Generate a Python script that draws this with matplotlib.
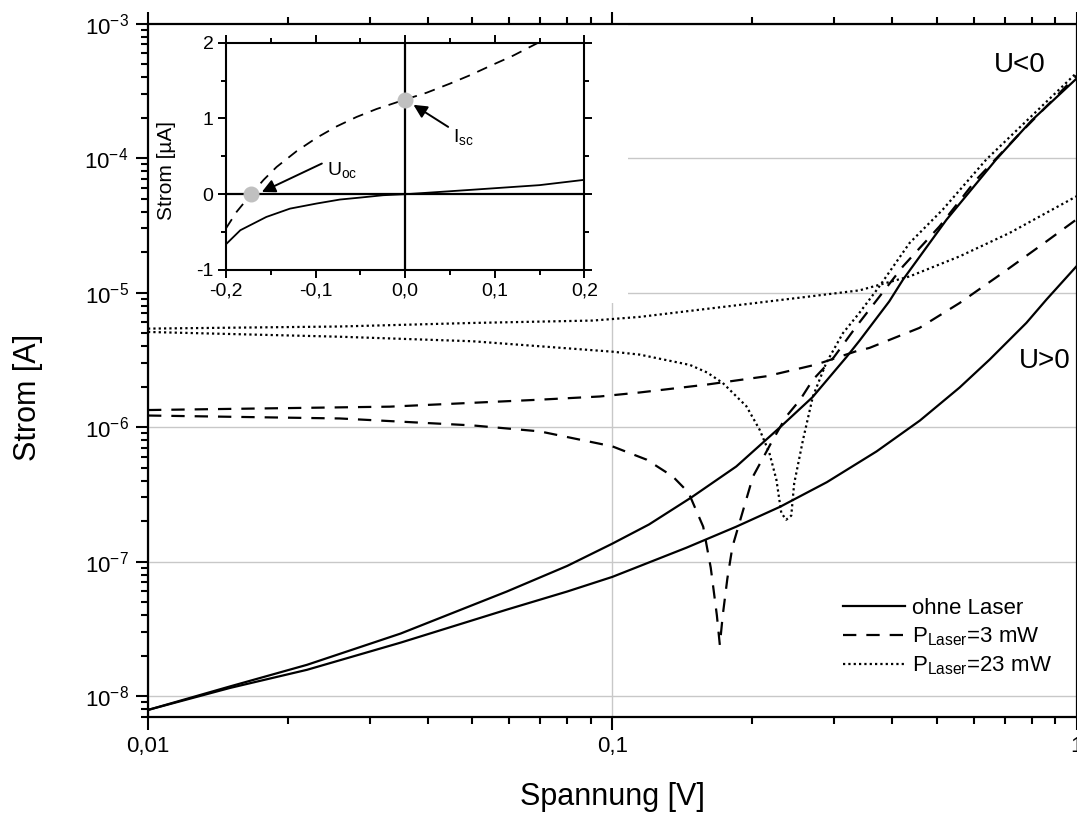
import matplotlib
matplotlib.use("Agg")
import matplotlib.pyplot as plt
from matplotlib.patches import Rectangle
from matplotlib.ticker import FixedLocator, LogLocator, NullFormatter, MultipleLocator

plt.rcParams["font.family"] = ["Liberation Sans", "DejaVu Sans"]
plt.rcParams["mathtext.fontset"] = "custom"
plt.rcParams["mathtext.rm"] = "Liberation Sans"
plt.rcParams["mathtext.it"] = "Liberation Sans:italic"
plt.rcParams["mathtext.bf"] = "Liberation Sans:bold"

# Hauptdiagramm: |I| ueber |U|, je Messung ein Ast fuer U<0 und U>0
u_dark_neg = [0.01, 0.015, 0.022, 0.035, 0.0593, 0.08, 0.1, 0.12, 0.148, 0.185,
              0.23, 0.27, 0.32, 0.341, 0.395, 0.423, 0.525, 0.671, 0.8, 1.0]
i_dark_neg = [7.9e-9, 1.18e-8, 1.71e-8, 2.92e-8, 6.0e-8, 9.3e-8, 1.36e-7, 1.89e-7, 3.0e-7, 5.1e-7,
              1.0e-6, 1.67e-6, 3.34e-6, 4.4e-6, 8.6e-6, 1.25e-5, 3.49e-5, 9.75e-5, 1.9e-4, 3.9e-4]

u_dark_pos = [0.01, 0.015, 0.022, 0.035, 0.0593, 0.08, 0.1, 0.1445, 0.185, 0.23,
              0.29, 0.371, 0.46, 0.56, 0.65, 0.78, 0.862, 1.0]
i_dark_pos = [7.9e-9, 1.15e-8, 1.57e-8, 2.5e-8, 4.4e-8, 6.0e-8, 7.7e-8, 1.27e-7, 1.82e-7, 2.56e-7,
              3.9e-7, 6.6e-7, 1.12e-6, 1.97e-6, 3.18e-6, 5.96e-6, 8.9e-6, 1.57e-5]

u_3mw_pos = [0.01, 0.0332, 0.0698, 0.094, 0.1146, 0.1595, 0.215, 0.275, 0.3355, 0.358,
             0.459, 0.56, 0.693, 0.861, 1.0]
i_3mw_pos = [1.34e-6, 1.42e-6, 1.6e-6, 1.69e-6, 1.81e-6, 2.07e-6, 2.39e-6, 2.92e-6, 3.67e-6, 3.88e-6,
             5.47e-6, 8.37e-6, 1.40e-5, 2.40e-5, 3.5e-5]

u_3mw_neg = [0.01, 0.0259, 0.05, 0.0698, 0.1, 0.1186, 0.135, 0.146, 0.157, 0.163,
             0.168, 0.1705, 0.173, 0.177, 0.1815, 0.201, 0.222, 0.237, 0.254, 0.2705,
             0.30, 0.3355, 0.358, 0.423, 0.507, 0.608, 0.743, 1.0]
i_3mw_neg = [1.22e-6, 1.16e-6, 1.03e-6, 9.3e-7, 7.2e-7, 5.73e-7, 4.3e-7, 3.26e-7, 1.82e-7, 9.0e-8,
             4.0e-8, 2.4e-8, 4.0e-8, 7.5e-8, 1.29e-7, 4.3e-7, 8.1e-7, 1.2e-6, 1.6e-6, 2.25e-6,
             3.3e-6, 5.6e-6, 7.48e-6, 1.57e-5, 3.11e-5, 6.9e-5, 1.44e-4, 4.1e-4]

u_23mw_pos = [0.01, 0.0259, 0.05, 0.0908, 0.1146, 0.188, 0.262, 0.341, 0.437, 0.56, 0.718, 1.0]
i_23mw_pos = [5.4e-6, 5.6e-6, 5.95e-6, 6.2e-6, 6.6e-6, 8.1e-6, 9.3e-6, 1.04e-5, 1.32e-5, 1.86e-5,
              2.78e-5, 5.2e-5]

u_23mw_neg = [0.01, 0.0259, 0.05, 0.1, 0.1146, 0.147, 0.16, 0.173, 0.1945, 0.2077, 0.218,
              0.2257, 0.2313, 0.237, 0.243, 0.2465, 0.2576, 0.2705, 0.289, 0.314, 0.341,
              0.376, 0.437, 0.515, 0.639, 1.0]
i_23mw_neg = [5.1e-6, 4.7e-6, 4.35e-6, 3.64e-6, 3.46e-6, 2.9e-6, 2.55e-6, 2.13e-6, 1.43e-6, 9.57e-7, 6.43e-7,
              4.07e-7, 2.3e-7, 2.05e-7, 2.2e-7, 3.8e-7, 8.07e-7, 1.69e-6, 3.0e-6, 5.0e-6, 7.1e-6,
              1.11e-5, 2.34e-5, 4.14e-5, 9.75e-5, 4.3e-4]

x_ticks = [0.01, 0.1, 1.0]
x_ticklabels = ["0,01", "0,1", "1"]
y_ticks = [1e-8, 1e-7, 1e-6, 1e-5, 1e-4, 1e-3]
y_ticklabels = [r"$\mathregular{10^{-%d}}$" % n for n in (8, 7, 6, 5, 4, 3)]

legend_labels = ["ohne Laser", r"P$_\mathregular{Laser}$=3 mW", r"P$_\mathregular{Laser}$=23 mW"]

# Einsatz: lineare Kennlinie um U=0, Strom in uA
inset_u_dark = [-0.2, -0.184, -0.155, -0.1286, -0.099, -0.0728, -0.05, -0.0244, 0.0, 0.076, 0.15, 0.2]
inset_i_dark = [-0.66, -0.475, -0.30, -0.19, -0.123, -0.07, -0.044, -0.013, 0.0, 0.06, 0.12, 0.19]
inset_u_3mw = [-0.2, -0.188, -0.172, -0.158, -0.1435, -0.121, -0.0988, -0.0765, -0.0542, -0.0319, 0.0,
               0.024, 0.05, 0.0723, 0.098, 0.1207, 0.1486]
inset_i_3mw = [-0.45, -0.23, 0.0, 0.19, 0.36, 0.57, 0.745, 0.895, 1.02, 1.125, 1.25,
               1.34, 1.46, 1.57, 1.71, 1.83, 2.0]
inset_mark_u = [-0.172, 0.0]
inset_mark_i = [0.0, 1.25]
inset_xticks = [-0.2, -0.1, 0.0, 0.1, 0.2]
inset_xticklabels = ["-0,2", "-0,1", "0,0", "0,1", "0,2"]
inset_yticks = [-1, 0, 1, 2]
inset_yticklabels = ["-1", "0", "1", "2"]

DASH = (6, 4.5)
DOT = (1, 1.4)

fig = plt.figure(figsize=(10.77, 8.13), dpi=100)
ax = fig.add_axes([148 / 1077, 96 / 813, 928.5 / 1077, 693.4 / 813])

lw = 1.6
ax.plot(u_dark_neg, i_dark_neg, color="k", lw=lw, label=legend_labels[0])
ax.plot(u_dark_pos, i_dark_pos, color="k", lw=lw)
ax.plot(u_3mw_neg, i_3mw_neg, color="k", lw=lw, dashes=DASH, label=legend_labels[1])
ax.plot(u_3mw_pos, i_3mw_pos, color="k", lw=lw, dashes=DASH)
ax.plot(u_23mw_neg, i_23mw_neg, color="k", lw=lw, dashes=DOT, label=legend_labels[2])
ax.plot(u_23mw_pos, i_23mw_pos, color="k", lw=lw, dashes=DOT)

ax.set_xscale("log")
ax.set_yscale("log")
ax.set_xlim(0.01, 1.0)
ax.set_ylim(7e-9, 1e-3)

ax.xaxis.set_major_locator(FixedLocator(x_ticks))
ax.set_xticklabels(x_ticklabels)
ax.xaxis.set_minor_locator(LogLocator(base=10, subs=range(2, 10)))
ax.xaxis.set_minor_formatter(NullFormatter())
ax.yaxis.set_major_locator(FixedLocator(y_ticks))
ax.set_yticklabels(y_ticklabels)
ax.yaxis.set_minor_locator(LogLocator(base=10, subs=range(2, 10)))
ax.yaxis.set_minor_formatter(NullFormatter())

ax.tick_params(which="both", direction="out", top=True, right=True, width=1.5, labelsize=16)
ax.tick_params(which="major", length=9, pad=5)
ax.tick_params(which="minor", length=5)
for s in ax.spines.values():
    s.set_linewidth(1.6)

ax.set_axisbelow(True)
ax.grid(True, which="major", color="#c8c8c8", lw=1.0)
# weisse Flaeche hinter dem Einsatz verdeckt das Gitter
ax.add_patch(Rectangle((0, 0.597), 0.517, 0.41, transform=ax.transAxes,
                       facecolor="white", edgecolor="none", zorder=1))

ax.text(0.754, 4.33e-4, "U<0", fontsize=20, ha="center", va="baseline")
ax.text(0.855, 2.77e-6, "U>0", fontsize=20, ha="center", va="baseline")

ax.legend(loc="upper left", bbox_to_anchor=(0.7485, 0.172), frameon=False, fontsize=16,
          borderpad=0, borderaxespad=0, handlelength=2.8, handletextpad=0.3, labelspacing=0.3)

fig.text(28 / 1077, 1 - 397 / 813, "Strom [A]", fontsize=22, rotation=90, ha="center", va="center")
fig.text(612 / 1077, 8 / 813, "Spannung [V]", fontsize=22, ha="center", va="baseline")

# Einsatz
axi = fig.add_axes([226 / 1077, 1 - 270 / 813, 358.3 / 1077, 227.3 / 813])
axi.set_facecolor("white")
axi.axhline(0, color="k", lw=1.6, zorder=1)
axi.axvline(0, color="k", lw=1.6, zorder=1)
axi.plot(inset_u_dark, inset_i_dark, color="k", lw=1.3)
axi.plot(inset_u_3mw, inset_i_3mw, color="k", lw=1.3, dashes=(6, 4.5))
axi.plot(inset_mark_u, inset_mark_i, ls="none", marker="o", ms=10.5, color="#c0c0c0", zorder=3)
axi.set_xlim(-0.2, 0.2)
axi.set_ylim(-1, 2)
axi.set_xticks(inset_xticks)
axi.set_xticklabels(inset_xticklabels)
axi.set_yticks(inset_yticks)
axi.set_yticklabels(inset_yticklabels)
axi.xaxis.set_minor_locator(MultipleLocator(0.05))
axi.yaxis.set_minor_locator(MultipleLocator(0.5))
axi.tick_params(which="both", direction="out", top=True, right=True, width=1.4, labelsize=14)
axi.tick_params(which="major", length=6, pad=3)
axi.tick_params(which="minor", length=3.5)
for s in axi.spines.values():
    s.set_linewidth(1.5)

axi.annotate("", xy=(-0.160, 0.03), xytext=(-0.093, 0.405),
             arrowprops=dict(arrowstyle="-|>", color="k", lw=1.4, mutation_scale=20,
                             shrinkA=0, shrinkB=0))
axi.annotate("", xy=(0.0093, 1.18), xytext=(0.048, 0.889),
             arrowprops=dict(arrowstyle="-|>", color="k", lw=1.4, mutation_scale=20,
                             shrinkA=0, shrinkB=0))
axi.text(-0.087, 0.25, r"U$_\mathregular{oc}$", fontsize=14, ha="left", va="baseline")
axi.text(0.0537, 0.69, r"I$_\mathregular{sc}$", fontsize=14, ha="left", va="baseline")

fig.text(167 / 1077, 1 - 171 / 813, "Strom [µA]", fontsize=15, rotation=90, ha="center", va="center")

fig.savefig("out.png", dpi=100)
